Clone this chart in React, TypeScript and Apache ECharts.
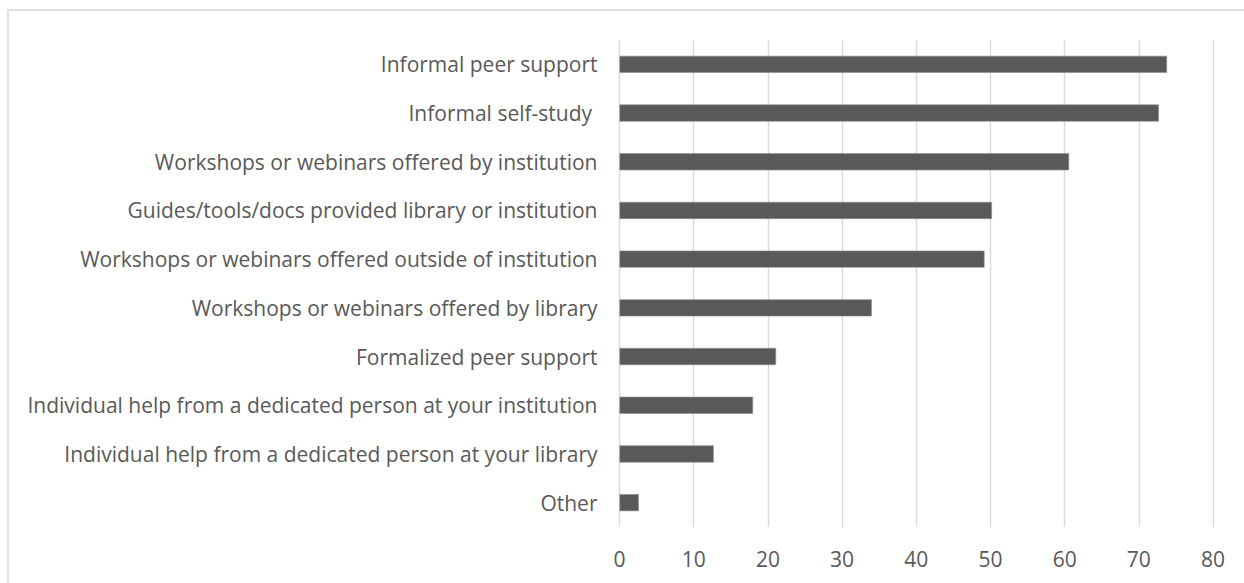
import React, { useEffect, useRef } from "react";
import * as echarts from "echarts";

const categories = [
  "Informal peer support",
  "Informal self-study ",
  "Workshops or webinars offered by institution",
  "Guides/tools/docs provided library or institution",
  "Workshops or webinars offered outside of institution",
  "Workshops or webinars offered by library",
  "Formalized peer support",
  "Individual help from a dedicated person at your institution",
  "Individual help from a dedicated person at your library",
  "Other",
];

const values = [73.8, 72.7, 60.6, 50.2, 49.2, 34.0, 21.1, 18.0, 12.7, 2.6];

const axisMin = 0;
const axisMax = 80;
const axisStep = 10;

const FONT = "Open Sans";

export default function App() {
  const ref = useRef<HTMLDivElement>(null);

  useEffect(() => {
    if (!ref.current) return;
    const chart = echarts.init(ref.current, undefined, { renderer: "svg" });
    chart.setOption({
      animation: false,
      backgroundColor: "#ffffff",
      graphic: [
        {
          type: "rect",
          shape: { x: 8, y: 10, width: 1400, height: 800 },
          style: { fill: "none", stroke: "#d9d9d9", lineWidth: 1.5 },
          silent: true,
          z: 0,
        },
      ],
      grid: { left: 619.5, right: 31, top: 40, bottom: 56, containLabel: false },
      xAxis: {
        type: "value",
        min: axisMin,
        max: axisMax,
        interval: axisStep,
        axisLine: { show: false },
        axisTick: { show: false },
        splitLine: { show: true, lineStyle: { color: "#d9d9d9", width: 1.4 } },
        axisLabel: {
          color: "#595959",
          fontFamily: FONT,
          fontSize: 21,
          margin: 21,
        },
      },
      yAxis: {
        type: "category",
        data: categories,
        inverse: true,
        axisLine: { show: false },
        axisTick: { show: false },
        splitLine: { show: false },
        axisLabel: {
          color: "#595959",
          fontFamily: FONT,
          fontSize: 21,
          margin: 22,
        },
      },
      series: [
        {
          type: "bar",
          data: values,
          barWidth: 17,
          itemStyle: { color: "#595959", borderColor: "#8c8c8c", borderWidth: 0.6 },
        },
      ],
    });
    return () => chart.dispose();
  }, []);

  return (
    <div
      ref={ref}
      style={{ position: "absolute", left: 0, top: 0, width: 1244, height: 583 }}
    />
  );
}
